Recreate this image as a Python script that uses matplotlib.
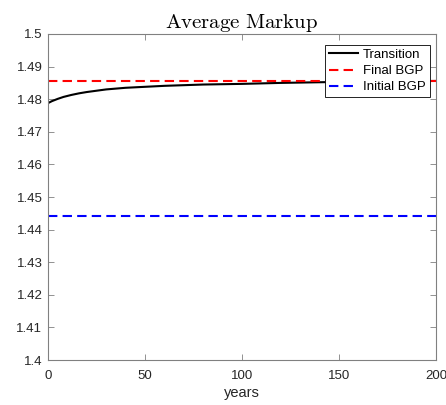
import numpy as np
import matplotlib.pyplot as plt
from matplotlib.ticker import FuncFormatter

# transition path of the average markup (read at selected years)
years = [0, 2, 5, 8, 12, 16, 20, 25, 30, 40, 50, 60, 80, 100, 120, 140, 160, 180, 200]
transition = [1.4788, 1.4794, 1.4801, 1.4807, 1.4813, 1.4818, 1.4822, 1.4826,
              1.4830, 1.4835, 1.4838, 1.4841, 1.4845, 1.4847, 1.4850, 1.4852,
              1.4854, 1.4855, 1.4856]
final_bgp = 1.4857
initial_bgp = 1.4443

plt.rcParams['font.family'] = 'Liberation Sans'
plt.rcParams['mathtext.fontset'] = 'cm'

fig = plt.figure(figsize=(4.46, 4.05), dpi=100)
ax = fig.add_axes([48/446, 1 - 360/405, 388/446, 326/405])

ax.plot(years, transition, color='black', lw=1.5, label='Transition')
ax.plot([0, 200], [final_bgp, final_bgp], color='red', lw=1.5, ls='--',
        dashes=(4.5, 2.5), label='Final BGP')
ax.plot([0, 200], [initial_bgp, initial_bgp], color='blue', lw=1.5, ls='--',
        dashes=(4.5, 2.5), label='Initial BGP')

ax.set_xlim(0, 200)
ax.set_ylim(1.4, 1.5)
ax.set_xticks([0, 50, 100, 150, 200])
ax.set_yticks(np.arange(1.4, 1.5001, 0.01))
ax.yaxis.set_major_formatter(FuncFormatter(lambda v, p: '%g' % round(v, 2)))

gray = '#262626'
for s in ax.spines.values():
    s.set_color('#808080')
    s.set_linewidth(0.8)
ax.tick_params(direction='in', top=True, right=True, length=4, width=0.6,
               color='#808080', labelcolor=gray, labelsize=9.5)
ax.tick_params(axis='x', pad=7)
ax.tick_params(axis='y', pad=4)

ax.set_xlabel('years', fontsize=10.5, color=gray, labelpad=3)
ax.set_title(r'$\mathrm{Average\ Markup}$', fontsize=15, pad=4)

leg = ax.legend(loc='upper right', bbox_to_anchor=(0.984, 0.967), fontsize=9.5,
                fancybox=False, framealpha=1, edgecolor='black',
                borderpad=0.3, labelspacing=0.3, handlelength=2.2,
                handletextpad=0.4, borderaxespad=0)
leg.get_frame().set_linewidth(0.6)

fig.savefig('out.png', dpi=100)
